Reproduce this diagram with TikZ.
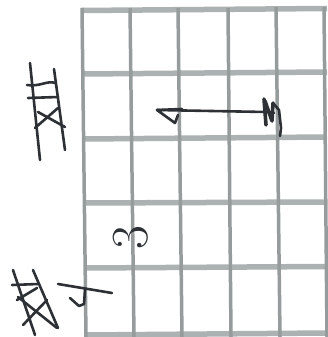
\documentclass[tikz,border=0pt]{standalone}
\definecolor{ink}{RGB}{45,48,52}
\definecolor{hgrid}{RGB}{172,177,177}
\definecolor{vgrid}{RGB}{150,156,156}
\tikzset{
  pen/.style={draw=ink, line width=2.6pt, line cap=round, line join=round},
  hline/.style={draw=hgrid, line width=5.5pt},
  vline/.style={draw=vgrid, line width=3.5pt},
}
\begin{document}
\begin{tikzpicture}[x=1pt,y=-1pt]
\fill[white] (0,0) rectangle (327,337);
\useasboundingbox (0,0) rectangle (327,337);
% horizontal grid lines
\draw[hline] (81,10.5) -- (327,8.5);
\draw[hline] (82,74) -- (327,72);
\draw[hline] (83,139) -- (327,137);
\draw[hline] (84,203) -- (327,202);
\draw[hline] (85,268) -- (327,266.5);
\draw[hline] (86,335) -- (327,333);
% vertical grid lines
\draw[vline] (82,8) -- (86,337);
\draw[vline] (130,8) -- (134,337);
\draw[vline] (178,8) -- (182,337);
\draw[vline] (228,8) -- (231,337);
\draw[vline] (276,7) -- (280,337);
\draw[vline] (324,7) -- (327,337);
% top-left ladder symbol
\draw[pen] (30,63) -- (40,160);
\draw[pen] (54,69) -- (65,150);
\draw[pen] (27,85) .. controls (40,87) and (48,80) .. (55,83);
\draw[pen] (28,98) -- (58,97);
\draw[pen] (35,128) -- (58,108);
\draw[pen] (38,112) -- (65,127);
% bottom-left ladder symbol
\draw[pen] (13,270) -- (35,335);
\draw[pen] (33,270) -- (58,328);
\draw[pen] (12,285) -- (38,284);
\draw[pen] (17,300) -- (37,288);
\draw[pen] (18,297) -- (57,328);
\draw[pen] (47,300) -- (23,325);
% hook mark
\draw[pen] (58,284) -- (112,293);
\draw[pen] (70,298) -- (79,306) -- (84,304) -- (85,290);
% arrow
\coordinate (atip) at (157,110);
\coordinate (aend) at (266,112);
\draw[pen] (aend) -- (atip) -- (175,123) -- (178,115);
\draw[pen] (atip) -- (182,109);
% scribble at arrow end
\draw[pen, line width=3.6pt] (264,99) -- (266,125);
\draw[pen, line width=3.6pt] (265,101) -- (272,121) -- (273,103);
\draw[pen] (273,103) -- (279,110) -- (281,128) -- (280,136);
\draw[pen] (267,112) -- (274,113);
% rotated three
\node[rotate=90, inner sep=0pt, text=ink, font=\fontsize{52}{52}\selectfont] (three) at (131,238) {3};
\end{tikzpicture}
\end{document}
